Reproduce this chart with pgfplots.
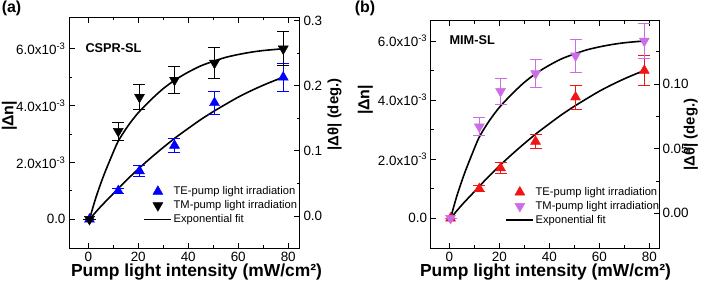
\documentclass[border=0pt]{standalone}
\usepackage{fontspec}
\setmainfont{Liberation Sans}
\usepackage{pgfplots}
\usepackage{pgfplotstable}
\pgfplotsset{compat=1.18}
\definecolor{tmviolet}{RGB}{204,108,232}
\definecolor{tered}{RGB}{240,20,20}
\definecolor{teblue}{RGB}{0,0,255}

\pgfplotstableread{
x y e
0.5 0 0
12 1.0 0.1
20.5 1.7 0.18
34.5 2.6 0.25
50.5 4.1 0.41
78 5.0 0.5
}\tedata
\pgfplotstableread{
x y e
0.5 0 0
12 3.1 0.31
20.5 4.3 0.44
34.5 4.9 0.48
50.5 5.5 0.55
78 6.0 0.6
}\tmdata
\pgfplotstableread{
x y
0.5 0
3 0.75
6 1.5
9 2.15
12 2.75
16 3.3
20 3.75
25 4.2
30 4.6
35 4.92
40 5.18
45 5.4
50 5.56
55 5.7
60 5.8
65 5.88
70 5.94
75 5.98
78 6.0
}\tmfit
\pgfplotstableread{
x y
0.5 0
5 0.45
10 0.9
15 1.35
20 1.77
25 2.16
30 2.53
35 2.88
40 3.2
45 3.51
50 3.79
55 4.05
60 4.3
65 4.52
70 4.72
75 4.9
78 5.0
}\tefit

\pgfplotsset{
  base/.style={
    scale only axis, anchor=south west,
    axis line style={line width=1bp},
    every tick/.style={line width=0.9bp, black},
    tick align=inside,
    major tick length=5.5bp, minor tick length=3bp,
    tick label style={font=\fontsize{13.5}{14}\selectfont},
    label style={font=\bfseries\fontsize{17.5}{19}\selectfont},
    xtick={0,20,40,60,80}, xticklabels={0,20,40,60,80},
    minor xtick={10,30,50,70},
  },
  leftax/.style={
    base,
    xtick pos=both, xticklabel pos=lower,
    ytick pos=left,
    ytick={0,2,4,6},
    yticklabels={0.0,2.0x10\textsuperscript{-3},4.0x10\textsuperscript{-3},6.0x10\textsuperscript{-3}},
    minor ytick={1,3,5},
    ylabel style={font=\bfseries\fontsize{16}{17}\selectfont},
    legend cell align=left,
    legend style={draw=none, fill=none, inner sep=0pt,
      font=\fontsize{11.2}{12}\selectfont,
      nodes={inner xsep=1.5bp, inner ysep=2bp, text height=8bp, text depth=2bp}},
    legend image code/.code={\draw[mark repeat=2,mark phase=2,#1] plot coordinates {(0bp,0bp) (13.5bp,0bp) (27bp,0bp)};},
  },
  rightax/.style={
    base,
    hide x axis,
    ytick pos=right, yticklabel pos=right,
    label style={font=\bfseries\fontsize{15}{17}\selectfont},
  },
  fitline/.style={black, line width=1.6bp, smooth, no markers, forget plot},
  pts/.style={only marks, mark size=5.8, mark=triangle*,
    error bars/y dir=both, error bars/y explicit,
    error bars/error bar style={line width=1bp},
    error bars/error mark options={rotate=90, mark size=6bp, line width=1bp}},
}

\begin{document}
\begin{tikzpicture}
\useasboundingbox (0,0) rectangle (708bp,282bp);
\node[font=\bfseries\fontsize{16}{18}\selectfont] at (11.5bp,273.5bp) {(a)};
\node[font=\bfseries\fontsize{16}{18}\selectfont] at (365bp,273.5bp) {(b)};

% ---------- panel (a)
\begin{axis}[leftax, at={(69bp,33.7bp)}, width=231bp, height=231bp,
  xmin=-7.7, xmax=84.7, ymin=-1.02, ymax=7.11,
  xlabel={Pump light intensity (mW/cm²)},
  xlabel style={at={(axis description cs:0.552,-0.102)}, anchor=center},
  ylabel={|Δn|},
  ylabel style={at={(axis description cs:-0.258,0.573)}, anchor=center},
  legend style={at={(axis description cs:0.322,0.277)}, anchor=north west},
]
\addplot[fitline] table[x=x,y=y] {\tmfit};
\addplot[fitline] table[x=x,y=y] {\tefit};
\addplot[pts, color=teblue, mark options={teblue}] table[x=x,y=y,y error=e] {\tedata};
\addlegendentry{TE-pump light irradiation}
\addplot[pts, color=black, mark options={black, rotate=180}] table[x=x,y=y,y error=e] {\tmdata};
\addlegendentry{TM-pump light irradiation}
\addlegendimage{black, line width=1.6bp}
\addlegendentry{Exponential fit}
\node[anchor=west, font=\bfseries\fontsize{12.8}{14}\selectfont] at (axis cs:-2.5,6.02) {CSPR-SL};
\end{axis}
\begin{axis}[rightax, at={(69bp,33.7bp)}, width=231bp, height=231bp,
  xmin=-7.7, xmax=84.7, ymin=-0.0496, ymax=0.305,
  ytick={0,0.1,0.2,0.3}, yticklabels={0.0,0.1,0.2,0.3},
  minor ytick={0.05,0.15,0.25},
  ylabel={|Δθ| (deg.)},
  ylabel style={at={(axis description cs:1.15,0.58)}, anchor=center},
]
\end{axis}

% ---------- panel (b)
\begin{axis}[leftax, at={(430.7bp,33.7bp)}, width=228.3bp, height=227.6bp,
  xmin=-7.44, xmax=83.88, ymin=-1.015, ymax=6.687,
  xlabel={Pump light intensity (mW/cm²)},
  xlabel style={at={(axis description cs:0.503,-0.104)}, anchor=center},
  ylabel={|Δn|},
  ylabel style={at={(axis description cs:-0.286,0.652)}, anchor=center},
  legend style={at={(axis description cs:0.327,0.278)}, anchor=north west},
]
\addplot[fitline] table[x=x,y=y] {\tmfit};
\addplot[fitline] table[x=x,y=y] {\tefit};
\addplot[pts, color=tered, mark options={tered}] table[x=x,y=y,y error=e] {\tedata};
\addlegendentry{TE-pump light irradiation}
\addplot[pts, color=tmviolet, mark options={tmviolet, rotate=180}] table[x=x,y=y,y error=e] {\tmdata};
\addlegendentry{TM-pump light irradiation}
\addlegendimage{black, line width=1.6bp}
\addlegendentry{Exponential fit}
\node[anchor=west, font=\bfseries\fontsize{12.8}{14}\selectfont] at (axis cs:-1.3,6.03) {MIM-SL};
\end{axis}
\begin{axis}[rightax, at={(430.7bp,33.7bp)}, width=228.3bp, height=227.6bp,
  xmin=-7.44, xmax=83.88, ymin=-0.0271, ymax=0.149,
  ytick={0,0.05,0.1,0.15}, yticklabels={0.00,0.05,0.10,0.15},
  minor ytick={0.025,0.075,0.125},
  ylabel={|Δθ| (deg.)},
  ylabel style={at={(axis description cs:1.14,0.5)}, anchor=center},
]
\end{axis}
\end{tikzpicture}
\end{document}
